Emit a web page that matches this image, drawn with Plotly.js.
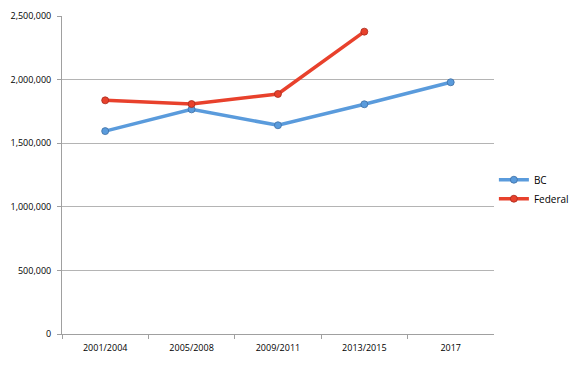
<!DOCTYPE html>
<html><head><meta charset="utf-8">
<script src="https://cdn.plot.ly/plotly-3.0.1.min.js"></script>
<style>html,body{margin:0;padding:0;background:#fff}#c{width:579px;height:366px}</style>
</head><body><div id="c"></div>
<script>
const categories = ["2001/2004", "2005/2008", "2009/2011", "2013/2015", "2017"];
const bcValues = [1595000, 1766000, 1641000, 1806000, 1979000];
const federalValues = [1837000, 1808000, 1887000, 2377000, null];
const yTicks = [0, 500000, 1000000, 1500000, 2000000, 2500000];
const yTickLabels = ["0", "500,000", "1,000,000", "1,500,000", "2,000,000", "2,500,000"];

const font = "Optima, 'Open Sans', 'DejaVu Sans', sans-serif";
const traces = [
  {x: categories, y: bcValues, name: "BC", type: "scatter", mode: "lines+markers",
   line: {color: "#5a9bdc", width: 3.5},
   marker: {color: "#5a9bdc", size: 7, line: {color: "#3d6fa3", width: 0.8}}},
  {x: categories, y: federalValues, name: "Federal", type: "scatter", mode: "lines+markers",
   line: {color: "#e8412c", width: 3.5},
   marker: {color: "#e8412c", size: 7, line: {color: "#a82a1c", width: 0.8}}}
];
const layout = {
  width: 579, height: 366,
  margin: {l: 62, r: 84, t: 16, b: 32},
  paper_bgcolor: "#fff", plot_bgcolor: "#fff",
  font: {family: font, size: 9, color: "#000"},
  showlegend: true,
  legend: {xref: "container", yref: "container", x: 0.853, y: 0.483, xanchor: "left", yanchor: "middle",
           font: {size: 10, family: font}, tracegroupgap: 0, itemwidth: 30, bgcolor: "rgba(0,0,0,0)"},
  xaxis: {type: "category", range: [-0.5, 4.5], tickson: "boundaries", ticks: "outside",
          ticklen: 4, tickcolor: "#a0a0a0", showline: true, linecolor: "#a0a0a0", linewidth: 1,
          showgrid: false, zeroline: false, tickfont: {size: 9, family: font}, ticklabelstandoff: 5,
          automargin: false},
  yaxis: {range: [0, 2500000], tickvals: yTicks, ticktext: yTickLabels, ticks: "outside",
          ticklen: 4, tickcolor: "#a0a0a0", showline: true, linecolor: "#a0a0a0", linewidth: 1,
          showgrid: true, gridcolor: "#b4b4b4", gridwidth: 1, zeroline: false,
          tickfont: {size: 9, family: font}, ticklabelstandoff: 4, automargin: false}
};
Plotly.newPlot("c", traces, layout, {displayModeBar: false, staticPlot: true});
</script></body></html>
